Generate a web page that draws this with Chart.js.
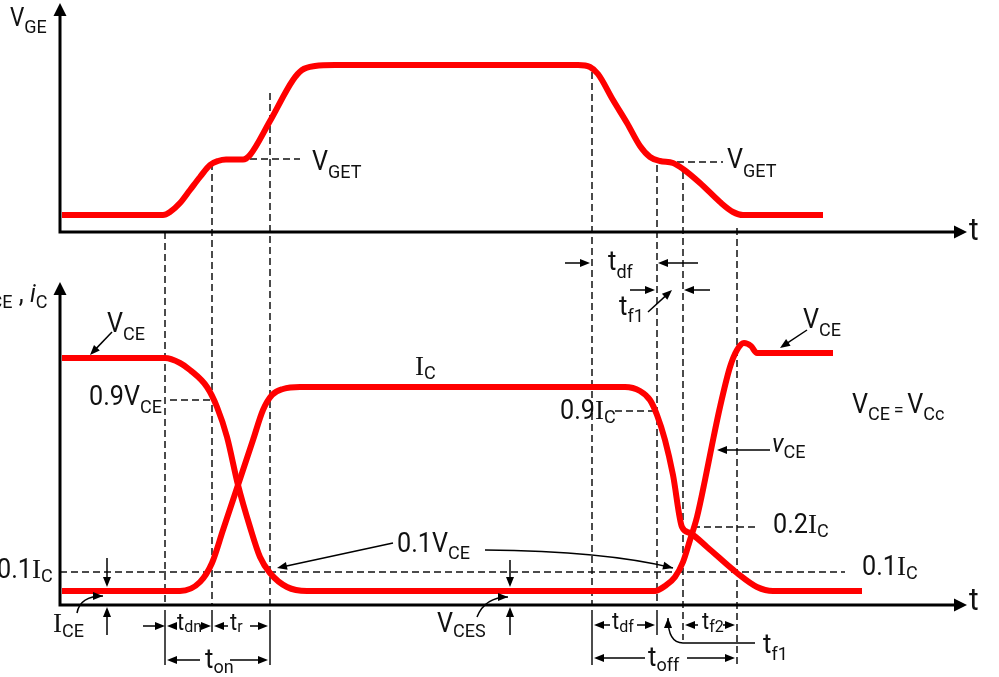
<!DOCTYPE html>
<html>
<head>
<meta charset="utf-8">
<script src="https://cdn.jsdelivr.net/npm/chart.js@4.4.1/dist/chart.umd.min.js"></script>
<style>
  html, body { margin: 0; padding: 0; background: #fff; }
  #wrap { width: 999px; height: 677px; position: relative; }
</style>
</head>
<body>
<div id="wrap"><canvas id="chart"></canvas></div>
<script>
// gate voltage trace (top panel)
const vgeTime  = [0.2, 10.3, 11.0, 12.0, 13.0, 14.0, 15.0, 15.8, 16.6, 18.3, 19.0, 21.0, 23.3, 24.2, 25.5, 27.5,
                  51.8, 53.0, 53.8, 55.3, 56.7, 58.0, 59.0, 60.0, 61.3, 62.3, 64.0, 66.0, 67.3, 68.3, 76.3];
const vgeValue = [1.7, 1.7, 2.0, 2.9, 4.2, 5.5, 6.7, 7.1, 7.25, 7.25, 7.7, 11.1, 15.2, 16.2, 16.6, 16.7,
                  16.7, 16.5, 15.8, 13.2, 10.9, 8.6, 7.5, 7.1, 6.9, 6.3, 4.9, 3.0, 2.0, 1.7, 1.7];

// collector-emitter voltage (bottom panel)
const vceTime  = [0.2, 10.5, 12.0, 13.0, 14.7, 15.7, 16.7, 17.8, 19.0, 20.0, 21.0, 22.7, 24.7, 59.5,
                  60.5, 61.5, 62.3, 63.0, 63.7, 64.5, 65.2, 66.0, 67.0, 67.7, 68.4, 69.1, 69.7, 77.3];
const vceValue = [24.7, 24.7, 24.2, 23.5, 21.8, 19.8, 16.8, 12.0, 7.8, 4.8, 3.2, 1.8, 1.4, 1.4,
                  1.9, 2.8, 4.3, 6.5, 8.8, 12.5, 16.0, 19.8, 23.8, 25.5, 26.2, 25.9, 25.2, 25.2];

// collector current (bottom panel)
const icTime  = [0.2, 12.0, 14.0, 15.2, 16.3, 17.8, 19.3, 20.3, 21.2, 22.3, 24.0, 56.5, 58.0, 59.0,
                 59.7, 60.5, 61.3, 62.2, 63.0, 64.7, 67.7, 69.7, 71.3, 80.2];
const icValue = [1.4, 1.4, 2.3, 4.2, 7.5, 12.0, 16.5, 19.5, 21.0, 21.6, 21.8, 21.8, 21.4, 20.5,
                 19.0, 16.5, 13.0, 7.8, 7.2, 5.8, 3.2, 1.8, 1.4, 1.4];

// switching instants (dashed guides) and where each guide starts in the top panel
const tEvents   = [10.5, 15.2, 21.0, 53.2, 59.7, 62.3, 67.7];
const guideTop  = [0, 6.9, 13.9, 16.0, 6.7, 6.0, 0.4];
const guideLow  = [-6.0, -2.7, -6.0, -6.0, -3.0, -3.5, -6.0];
const guideDash = [false, false, false, false, false, true, true];

// horizontal reference levels: [panel, level, from, to]
const levels = [
  ['A', 7.3, 19.0, 24.0],
  ['A', 7.0, 61.7, 66.3],
  ['B', 20.5, 11.0, 15.2],
  ['B', 19.4, 55.5, 59.5],
  ['B', 7.8, 63.3, 69.5],
  ['B', 3.3, 0, 78.5]
];

// straight arrows: [panel, x1, y1, x2, y2] (head at the second point)
const arrows = [
  ['A', 50.5, -3.1, 53.0, -3.1], ['A', 63.8, -3.1, 59.8, -3.1],
  ['A', 57.0, -5.8, 59.5, -5.8], ['A', 65.0, -5.8, 62.4, -5.8],
  ['A', 58.8, -8.0, 61.2, -5.8],
  ['B', 5.2, 27.3, 3.0, 25.0], ['B', 74.7, 27.5, 72.0, 25.7],
  ['B', 71.0, 15.5, 65.7, 15.5], ['B', 33.3, 6.2, 21.7, 3.7],
  ['B', 4.7, 4.7, 4.7, 1.8], ['B', 4.7, -3.0, 4.7, -0.2],
  ['B', 45.0, 4.5, 45.0, 1.8], ['B', 45.0, -3.0, 45.0, -0.2],
  ['B', 8.3, -2.1, 10.5, -2.1], ['B', 11.6, -2.1, 10.7, -2.1],
  ['B', 13.9, -2.1, 15.1, -2.1], ['B', 16.8, -2.1, 15.4, -2.1],
  ['B', 19.0, -2.1, 20.8, -2.1],
  ['B', 14.0, -5.5, 10.7, -5.5], ['B', 17.0, -5.5, 20.8, -5.5],
  ['B', 55.0, -2.0, 53.4, -2.0], ['B', 57.7, -2.0, 59.5, -2.0],
  ['B', 63.8, -2.0, 62.5, -2.0], ['B', 66.3, -2.0, 67.5, -2.0],
  ['B', 58.5, -5.3, 53.4, -5.3], ['B', 62.7, -5.3, 67.5, -5.3]
];

// curved arrows: [panel, start, optional straight run, control, end]
const curves = [
  ['B', [1.7, -0.8], null, [2.0, 0.9], [4.3, 0.9]],
  ['B', [41.7, -1.2], null, [42.5, 0.8], [44.8, 0.8]],
  ['B', [42.5, 5.5], null, [54.5, 5.4], [61.3, 3.7]],
  ['B', [69.5, -3.8], [62.3, -3.8], [60.8, -3.8], [60.8, -1.3]]
];

// font, horizontal squeeze
const FONTS = {
  M: ['28px Roboto', 0.9], V: ['25px Roboto', 0.9], S: ['18px Roboto', 1], S2: ['16px Roboto', 1],
  I: ['italic 26px Roboto', 0.95], R: ['27px "Liberation Serif"', 1],
  T: ['27px Roboto', 0.95], T2: ['23px Roboto', 0.95], TA: ['31px Roboto', 0.95]
};

// labels: [panel, x, baseline, [[text, font, dy], ...]]
const labels = [
  ['A', -5.0, 20.6, [['V', 'V'], ['GE', 'S', 7]]],
  ['A', 25.2, 6.2, [['V', 'M'], ['GET', 'S', 8]]],
  ['A', 66.7, 6.4, [['V', 'M'], ['GET', 'S', 9]]],
  ['A', 90.9, -0.8, [['t', 'TA']]],
  ['A', 54.8, -3.8, [['t', 'T'], ['df', 'S', 8]]],
  ['A', 55.9, -8.3, [['t', 'T'], ['f1', 'S', 7]]],
  ['B', -8.1, 30.3, [['v', 'I'], ['CE', 'S', 6], [' , ', 'M'], ['i', 'I'], ['C', 'S', 6]]],
  ['B', 4.7, 27.3, [['V', 'M'], ['CE', 'S', 8]]],
  ['B', 2.9, 20.0, [['0.9V', 'M'], ['CE', 'S', 8]]],
  ['B', 35.5, 23.0, [['I', 'R'], ['C', 'S', 4]]],
  ['B', 50.0, 18.6, [['0.9', 'M'], ['I', 'R'], ['C', 'S', 4]]],
  ['B', 79.2, 19.2, [['V', 'M'], ['CE', 'S', 7], ['\u2009=\u2009', 'S', 3], ['V', 'M'], ['Cc', 'S', 7]]],
  ['B', 74.3, 27.7, [['V', 'M'], ['CE', 'S', 8]]],
  ['B', 71.2, 15.3, [['v', 'I'], ['CE', 'S', 6]]],
  ['B', 71.3, 7.2, [['0.2', 'M'], ['I', 'R'], ['C', 'S', 4]]],
  ['B', 80.2, 3.0, [['0.1', 'M'], ['I', 'R'], ['C', 'S', 4]]],
  ['B', -6.3, 2.7, [['0.1', 'M'], ['I', 'R'], ['C', 'S', 4]]],
  ['B', -0.7, -2.7, [['I', 'R'], ['CE', 'S', 5]]],
  ['B', 33.7, 5.3, [['0.1V', 'M'], ['CE', 'S', 7]]],
  ['B', 37.7, -2.7, [['V', 'M'], ['CES', 'S', 5]]],
  ['B', 11.7, -2.5, [['t', 'T2'], ['dn', 'S2', 2]]],
  ['B', 17.0, -2.5, [['t', 'T2'], ['r', 'S2', 2]]],
  ['B', 14.5, -6.3, [['t', 'T'], ['on', 'S', 5]]],
  ['B', 55.2, -2.4, [['t', 'T2'], ['df', 'S2', 3]]],
  ['B', 64.2, -2.4, [['t', 'T2'], ['f2', 'S2', 3]]],
  ['B', 58.8, -6.1, [['t', 'T'], ['off', 'S', 5]]],
  ['B', 70.3, -4.8, [['t', 'T'], ['f1', 'S', 7]]],
  ['B', 90.9, -0.5, [['t', 'TA']]]
];

const RED = '#ff0000';
const INK = '#111';

function head(ctx, x1, y1, x2, y2, len, half) {
  const a = Math.atan2(y2 - y1, x2 - x1);
  const c = Math.cos(a), s = Math.sin(a);
  ctx.beginPath();
  ctx.moveTo(x2, y2);
  ctx.lineTo(x2 - len * c + half * s, y2 - len * s - half * c);
  ctx.lineTo(x2 - len * c - half * s, y2 - len * s + half * c);
  ctx.closePath();
  ctx.fill();
}

const annotate = {
  id: 'annotate',
  beforeDatasetsDraw(chart) {
    const ctx = chart.ctx;
    const X = v => chart.scales.x.getPixelForValue(v);
    const Y = { A: v => chart.scales.yA.getPixelForValue(v), B: v => chart.scales.yB.getPixelForValue(v) };
    ctx.save();
    ctx.strokeStyle = INK;
    ctx.lineWidth = 1.5;
    // vertical guides at the switching instants
    tEvents.forEach((t, i) => {
      ctx.setLineDash([7, 4]);
      ctx.beginPath();
      ctx.moveTo(X(t), Y.A(guideTop[i]));
      ctx.lineTo(X(t), guideDash[i] ? Y.B(guideLow[i]) : Y.B(0));
      ctx.stroke();
      if (!guideDash[i]) {
        ctx.setLineDash([]);
        ctx.beginPath();
        ctx.moveTo(X(t), Y.B(-0.5));
        ctx.lineTo(X(t), Y.B(guideLow[i]));
        ctx.stroke();
      }
    });
    // horizontal reference levels
    ctx.setLineDash([7, 4]);
    levels.forEach(([p, lv, a, b]) => {
      ctx.beginPath();
      ctx.moveTo(X(a), Y[p](lv));
      ctx.lineTo(X(b), Y[p](lv));
      ctx.stroke();
    });
    ctx.restore();
  },
  afterDatasetsDraw(chart) {
    const ctx = chart.ctx;
    const X = v => chart.scales.x.getPixelForValue(v);
    const Y = { A: v => chart.scales.yA.getPixelForValue(v), B: v => chart.scales.yB.getPixelForValue(v) };
    ctx.save();
    ctx.fillStyle = '#000';
    ctx.strokeStyle = '#000';

    // the two pairs of axes with arrow heads
    [['A', 22.9], ['B', 32.3]].forEach(([p, tip]) => {
      const x0 = X(0), y0 = Y[p](0);
      ctx.lineWidth = 3;
      ctx.beginPath();
      ctx.moveTo(x0, y0 + 1.5);
      ctx.lineTo(x0, Y[p](tip) + 10);
      ctx.moveTo(x0 - 1.5, y0);
      ctx.lineTo(X(90.7) - 10, y0);
      ctx.stroke();
      head(ctx, x0, y0, x0, Y[p](tip), 13, 6.5);
      head(ctx, x0, y0, X(90.7), y0, 13, 6.5);
    });

    // annotation arrows
    ctx.lineWidth = 1.5;
    arrows.forEach(([p, x1, y1, x2, y2]) => {
      const ax = X(x1), ay = Y[p](y1), bx = X(x2), by = Y[p](y2);
      const d = Math.hypot(bx - ax, by - ay);
      const k = Math.max(0, (d - 5) / d);
      ctx.beginPath();
      ctx.moveTo(ax, ay);
      ctx.lineTo(ax + (bx - ax) * k, ay + (by - ay) * k);
      ctx.stroke();
      head(ctx, ax, ay, bx, by, 10, 4);
    });
    curves.forEach(([p, s, run, c, e]) => {
      ctx.beginPath();
      ctx.moveTo(X(s[0]), Y[p](s[1]));
      if (run) ctx.lineTo(X(run[0]), Y[p](run[1]));
      ctx.quadraticCurveTo(X(c[0]), Y[p](c[1]), X(e[0]), Y[p](e[1]));
      ctx.stroke();
      head(ctx, X(c[0]), Y[p](c[1]), X(e[0]), Y[p](e[1]), 10, 4);
    });

    // text labels with subscripts
    ctx.fillStyle = INK;
    ctx.textAlign = 'left';
    ctx.textBaseline = 'alphabetic';
    labels.forEach(([p, x, y, segs]) => {
      let cx = X(x);
      const by = Y[p](y);
      segs.forEach(([txt, f, dy]) => {
        const [font, sq] = FONTS[f];
        ctx.font = font;
        ctx.save();
        ctx.translate(cx, by + (dy || 0));
        ctx.scale(sq, 1);
        ctx.fillText(txt, 0, 0);
        ctx.restore();
        cx += ctx.measureText(txt).width * sq;
      });
    });
    ctx.restore();
  }
};

const pts = (xs, ys) => xs.map((t, i) => ({ x: t, y: ys[i] }));
const trace = (label, data, axis) => ({
  label, data, yAxisID: axis,
  borderColor: RED, borderWidth: 6, pointRadius: 0,
  cubicInterpolationMode: 'monotone', borderCapStyle: 'butt', borderJoinStyle: 'round',
  fill: false, clip: false
});

new Chart(document.getElementById('chart'), {
  type: 'line',
  data: {
    datasets: [
      trace('vCE', pts(vceTime, vceValue), 'yB'),
      trace('iC', pts(icTime, icValue), 'yB'),
      trace('VGE', pts(vgeTime, vgeValue), 'yA')
    ]
  },
  options: {
    responsive: true,
    maintainAspectRatio: false,
    animation: false,
    layout: { padding: { left: 60, right: 39, top: 5, bottom: 5 } },
    scales: {
      x: { type: 'linear', min: 0, max: 90, display: false },
      yA: { type: 'linear', min: -44, max: 22.7, display: false },
      yB: { type: 'linear', min: -6.7, max: 60, display: false }
    },
    plugins: { legend: { display: false }, tooltip: { enabled: false } }
  },
  plugins: [annotate]
});
</script>
</body>
</html>
